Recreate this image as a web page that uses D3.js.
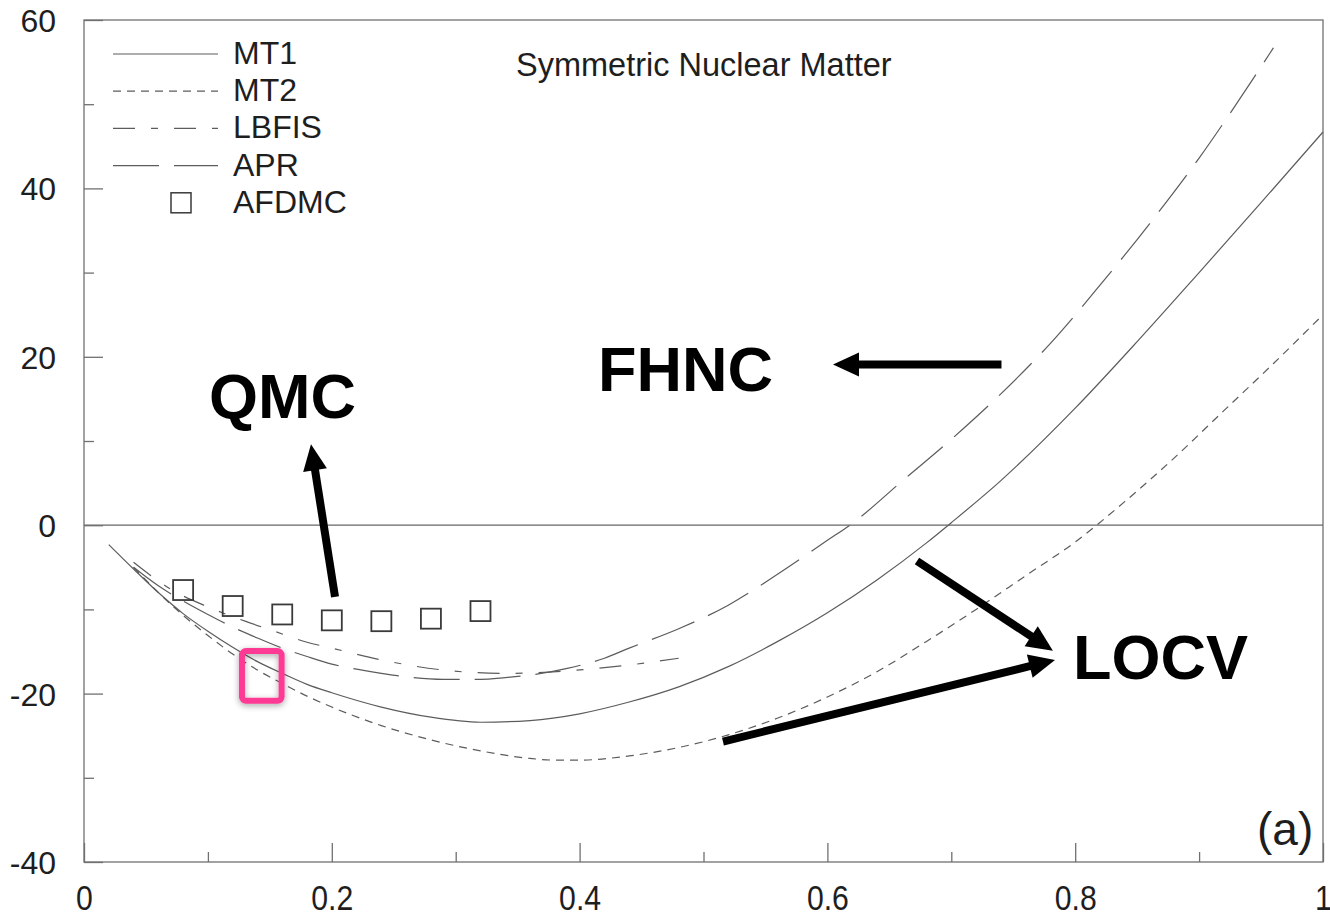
<!DOCTYPE html>
<html><head><meta charset="utf-8">
<script src="https://cdn.jsdelivr.net/npm/d3@7/dist/d3.min.js"></script>
<style>body{margin:0;background:#fff} svg{display:block}</style>
</head><body><svg id="chart" width="1330" height="918"></svg>
<script>
// ---- data ----
const seriesNames = ["MT1", "MT2", "LBFIS", "APR"];
const mt1X = [0.02,0.04,0.06,0.08,0.10,0.12,0.14,0.16,0.18,0.20,0.24,0.28,0.32,0.36,0.40,0.44,0.48,0.52,0.56,0.60,0.64,0.68,0.70,0.74,0.80,0.85,0.90,0.95,1.00];
const mt1Y = [-2.3,-5.2,-8.0,-10.5,-12.6,-14.5,-16.2,-17.6,-18.9,-19.9,-21.6,-22.8,-23.4,-23.2,-22.4,-21.0,-19.2,-16.8,-13.8,-10.4,-6.5,-2.1,0.3,5.3,13.9,21.8,30.0,38.3,46.7];
const mt2X = [0.04,0.06,0.08,0.10,0.12,0.14,0.16,0.18,0.20,0.24,0.28,0.32,0.36,0.38,0.40,0.44,0.48,0.52,0.56,0.60,0.64,0.68,0.72,0.76,0.80,0.84,0.88,0.92,0.96,1.00];
const mt2Y = [-5.0,-8.0,-10.7,-13.1,-15.3,-17.2,-18.8,-20.3,-21.6,-23.8,-25.5,-26.8,-27.7,-27.9,-27.9,-27.4,-26.4,-24.9,-22.9,-20.4,-17.4,-13.8,-10.0,-6.0,-2.0,2.8,8.0,13.6,19.2,25.0];
const lbfisX = [0.04,0.07,0.10,0.13,0.15,0.18,0.20,0.24,0.29,0.34,0.39,0.44,0.48];
const lbfisY = [-4.4,-7.6,-9.7,-11.4,-12.4,-13.9,-14.6,-16.0,-17.2,-17.6,-17.3,-16.6,-15.8];
const aprX = [0.04,0.06,0.08,0.10,0.12,0.14,0.16,0.18,0.20,0.22,0.24,0.26,0.29,0.32,0.34,0.36,0.39,0.42,0.44,0.48,0.52,0.56,0.60,0.62,0.66,0.70,0.74,0.78,0.82,0.86,0.90,0.93,0.96];
const aprY = [-5.0,-7.2,-9.0,-10.6,-12.1,-13.4,-14.6,-15.6,-16.5,-17.1,-17.6,-18.0,-18.3,-18.3,-18.1,-17.8,-17.0,-15.8,-14.6,-12.3,-9.5,-5.8,-1.8,0.2,5.2,10.2,15.6,21.6,28.5,35.8,43.6,50.0,56.7];
const afdmcX = [0.08,0.12,0.16,0.20,0.24,0.28,0.32];
const afdmcY = [-7.7,-9.6,-10.6,-11.3,-11.4,-11.1,-10.2];
const markerName = "AFDMC";
const xMajorTicks = [0,0.2,0.4,0.6,0.8,1];
const xTickLabels = ["0","0.2","0.4","0.6","0.8","1"];
const xMinorTicks = [0.1,0.3,0.5,0.7,0.9];
const yMajorTicks = [-40,-20,0,20,40,60];
const yTickLabels = ["-40","-20","0","20","40","60"];
const yMinorTicks = [-30,-10,10,30,50];
const titleText = "Symmetric Nuclear Matter";
const panelLabel = "(a)";
const annotationLabels = ["QMC","FHNC","LOCV"];

// ---- layout / styles ----
const L = 84, R = 1323, T = 20, B = 862;
const x = d3.scaleLinear().domain([0,1]).range([L,R]);
const y = d3.scaleLinear().domain([-40,60]).range([B,T]);
const svg = d3.select("#chart");
const lineColor = "#5c5c5c", axisColor = "#707070", textColor = "#1e1e1e";
const dashes = {MT1: null, MT2: "8,6", LBFIS: "22,16,7,16", APR: "46,15"};
const FONT = "'Liberation Sans', Arial, sans-serif";

// frame
svg.append("rect").attr("x",L).attr("y",T).attr("width",R-L).attr("height",B-T)
  .attr("fill","none").attr("stroke",axisColor).attr("stroke-width",1.3);

// zero line
svg.append("line").attr("x1",x(0)).attr("x2",x(1)).attr("y1",y(0)).attr("y2",y(0))
  .attr("stroke","#666").attr("stroke-width",1.3);

// axes (inward ticks)
function axisGroup(axis, tr){
  const g = svg.append("g").attr("transform",tr).call(axis);
  g.select(".domain").remove();
  g.selectAll(".tick line").attr("stroke",axisColor).attr("stroke-width",1.3);
  return g;
}
const xAx = axisGroup(d3.axisBottom(x).tickValues(xMajorTicks).tickSize(-19)
  .tickFormat((d,i)=>xTickLabels[i]).tickPadding(0), `translate(0,${B})`);
xAx.selectAll("text").attr("font-family",FONT)
  .attr("font-size",36).attr("fill",textColor).attr("dy",null).attr("y",48)
  .attr("transform","scale(0.84,1)");
axisGroup(d3.axisBottom(x).tickValues(xMinorTicks).tickSize(-10).tickFormat(""), `translate(0,${B})`);
const yAx = axisGroup(d3.axisLeft(y).tickValues(yMajorTicks).tickSize(-19)
  .tickFormat((d,i)=>yTickLabels[i]).tickPadding(0), `translate(${L},0)`);
yAx.selectAll("text").attr("font-family",FONT).attr("font-size",32).attr("fill",textColor)
  .attr("x",-28).attr("dy","0.36em");
axisGroup(d3.axisLeft(y).tickValues(yMinorTicks).tickSize(-10).tickFormat(""), `translate(${L},0)`);

// curves
const seriesData = {
  MT1: d3.zip(mt1X, mt1Y), MT2: d3.zip(mt2X, mt2Y),
  LBFIS: d3.zip(lbfisX, lbfisY), APR: d3.zip(aprX, aprY)
};
const lineGen = d3.line().x(d=>x(d[0])).y(d=>y(d[1])).curve(d3.curveMonotoneX);
seriesNames.forEach(n=>{
  svg.append("path").datum(seriesData[n]).attr("d",lineGen)
    .attr("fill","none").attr("stroke",lineColor).attr("stroke-width",1.2)
    .attr("stroke-dasharray",dashes[n]);
});

// AFDMC markers
const sq = 20;
svg.append("g").selectAll("rect").data(d3.zip(afdmcX, afdmcY)).join("rect")
  .attr("x",d=>x(d[0])-sq/2).attr("y",d=>y(d[1])-sq/2).attr("width",sq).attr("height",sq)
  .attr("fill","none").attr("stroke","#3a3a3a").attr("stroke-width",1.8);

// legend
const legX0 = 113, legX1 = 218, legTextX = 233, legY0 = 54, legStep = 37.2;
seriesNames.forEach((n,i)=>{
  const yy = legY0 + i*legStep;
  svg.append("line").attr("x1",legX0).attr("x2",legX1).attr("y1",yy).attr("y2",yy)
    .attr("stroke",lineColor).attr("stroke-width",1.2).attr("stroke-dasharray",dashes[n]);
  svg.append("text").attr("x",legTextX).attr("y",yy+10).text(n)
    .attr("font-family",FONT).attr("font-size",32).attr("fill",textColor);
});
{
  const yy = legY0 + 4*legStep;
  svg.append("rect").attr("x",181-sq/2).attr("y",yy-sq/2).attr("width",sq).attr("height",sq)
    .attr("fill","none").attr("stroke","#3a3a3a").attr("stroke-width",1.5);
  svg.append("text").attr("x",legTextX).attr("y",yy+10).text(markerName)
    .attr("font-family",FONT).attr("font-size",32).attr("fill",textColor);
}

// title & panel label
svg.append("text").attr("x",516).attr("y",76).text(titleText)
  .attr("font-family",FONT).attr("font-size",32.5).attr("fill",textColor);
svg.append("text").attr("x",1257).attr("y",845).text(panelLabel)
  .attr("font-family",FONT).attr("font-size",46).attr("fill",textColor);

// annotations (data coordinates)
const annText = [
  {t:annotationLabels[0], x:0.1009, y:12.7},
  {t:annotationLabels[1], x:0.4149, y:15.9},
  {t:annotationLabels[2], x:0.7982, y:-18.3}
];
annText.forEach(a=>svg.append("text").attr("x",x(a.x)).attr("y",y(a.y)).text(a.t)
  .attr("font-family",FONT).attr("font-weight","bold").attr("font-size",63).attr("fill","#000"));

const arrows = [
  {x1:0.2026, y1:-8.5, x2:0.1832, y2:9.6},
  {x1:0.7405, y1:19.1, x2:0.6045, y2:19.1},
  {x1:0.6723, y1:-4.25, x2:0.7820, y2:-14.9},
  {x1:0.5157, y1:-25.7, x2:0.7837, y2:-16.0}
];
const headLen = 26, headHalf = 12;
arrows.forEach(a=>{
  const px1 = x(a.x1), py1 = y(a.y1), px2 = x(a.x2), py2 = y(a.y2);
  const dx = px2-px1, dy = py2-py1, len = Math.hypot(dx,dy);
  const ux = dx/len, uy = dy/len;
  const bx = px2 - ux*headLen, by = py2 - uy*headLen;
  svg.append("line").attr("x1",px1).attr("y1",py1).attr("x2",bx+ux*2).attr("y2",by+uy*2)
    .attr("stroke","#000").attr("stroke-width",8);
  svg.append("polygon").attr("points",
    [[px2,py2],[bx - uy*headHalf, by + ux*headHalf],[bx + uy*headHalf, by - ux*headHalf]].map(p=>p.join(",")).join(" "))
    .attr("fill","#000");
});

// pink highlight box
const defs = svg.append("defs");
const f = defs.append("filter").attr("id","sh").attr("x","-50%").attr("y","-50%").attr("width","200%").attr("height","200%");
f.append("feDropShadow").attr("dx",0).attr("dy",2).attr("stdDeviation",3).attr("flood-color","#000").attr("flood-opacity",0.35);
const box = {x0:0.1275, x1:0.1595, y0:-14.95, y1:-20.85};
svg.append("rect").attr("x",x(box.x0)).attr("y",y(box.y0))
  .attr("width",x(box.x1)-x(box.x0)).attr("height",y(box.y1)-y(box.y0))
  .attr("rx",4).attr("fill","none").attr("stroke","#fd3a95").attr("stroke-width",6)
  .attr("filter","url(#sh)");
</script></body></html>
